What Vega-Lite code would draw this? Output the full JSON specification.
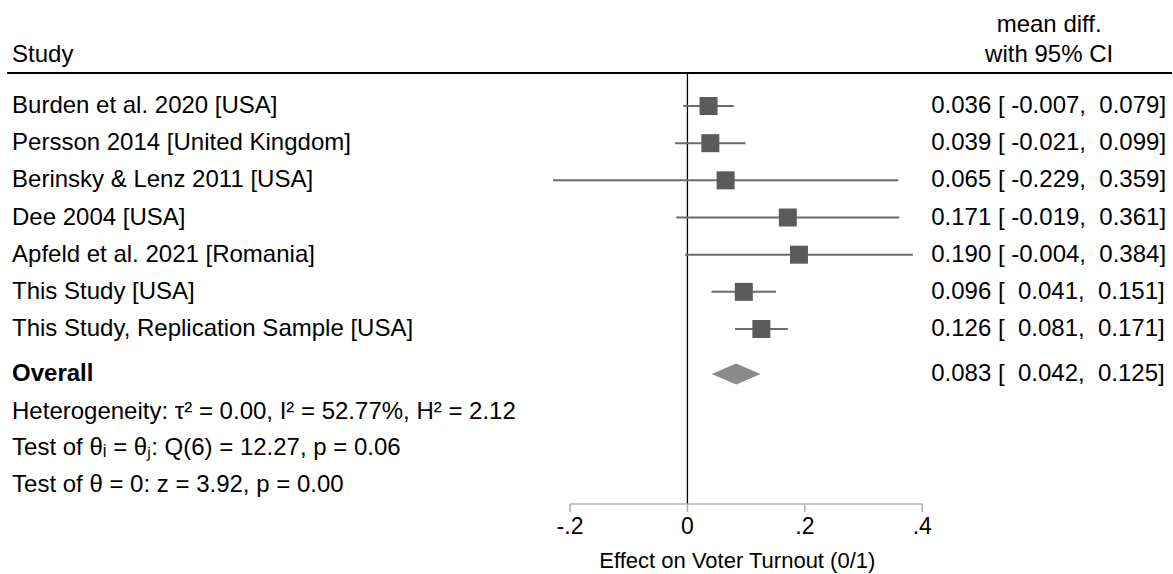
{
  "$schema": "https://vega.github.io/schema/vega-lite/v6.json",
  "width": 1173,
  "height": 574,
  "autosize": {"type": "fit", "contains": "padding"},
  "padding": 0,
  "background": "white",
  "view": {"stroke": null},
  "config": {"text": {"font": "Liberation Sans", "fontSize": 24, "color": "black"}},
  "datasets": {
    "studies": [
      {"study": "Burden et al. 2020 [USA]", "est": 0.036, "lo": -0.007, "hi": 0.079, "ci": "0.036 [ -0.007,\u00a0\u00a00.079]", "row": 1},
      {"study": "Persson 2014 [United Kingdom]", "est": 0.039, "lo": -0.021, "hi": 0.099, "ci": "0.039 [ -0.021,\u00a0\u00a00.099]", "row": 2},
      {"study": "Berinsky & Lenz 2011 [USA]", "est": 0.065, "lo": -0.229, "hi": 0.359, "ci": "0.065 [ -0.229,\u00a0\u00a00.359]", "row": 3},
      {"study": "Dee 2004 [USA]", "est": 0.171, "lo": -0.019, "hi": 0.361, "ci": "0.171 [ -0.019,\u00a0\u00a00.361]", "row": 4},
      {"study": "Apfeld et al. 2021 [Romania]", "est": 0.190, "lo": -0.004, "hi": 0.384, "ci": "0.190 [ -0.004,\u00a0\u00a00.384]", "row": 5},
      {"study": "This Study [USA]", "est": 0.096, "lo": 0.041, "hi": 0.151, "ci": "0.096 [\u00a0\u00a00.041,\u00a0\u00a00.151]", "row": 6},
      {"study": "This Study, Replication Sample [USA]", "est": 0.126, "lo": 0.081, "hi": 0.171, "ci": "0.126 [\u00a0\u00a00.081,\u00a0\u00a00.171]", "row": 7}
    ],
    "overall": [
      {"study": "Overall", "est": 0.083, "lo": 0.042, "hi": 0.125, "ci": "0.083 [\u00a0\u00a00.042,\u00a0\u00a00.125]", "row": 8.21}
    ],
    "notes": [
      {"note": "Heterogeneity: \u03c4\u00b2 = 0.00, I\u00b2 = 52.77%, H\u00b2 = 2.12", "row": 9.232},
      {"note": "Test of \u03b8\u1d62 = \u03b8\u2c7c: Q(6) = 12.27, p = 0.06", "row": 10.2},
      {"note": "Test of \u03b8 = 0: z = 3.92, p = 0.00", "row": 11.196}
    ],
    "ticks": [
      {"value": -0.2, "label": "-.2"},
      {"value": 0, "label": "0"},
      {"value": 0.2, "label": ".2"},
      {"value": 0.4, "label": ".4"}
    ],
    "one": [{}]
  },
  "data": {"name": "studies"},
  "encoding": {
    "x": {"type": "quantitative", "scale": {"domain": [-1.1711, 0.8255], "nice": false, "zero": false}, "axis": null},
    "y": {"type": "quantitative", "scale": {"domain": [-1.852, 13.591], "nice": false, "zero": false, "reverse": true}, "axis": null}
  },
  "layer": [
    {
      "data": {"name": "one"},
      "mark": {"type": "rule", "color": "black", "strokeWidth": 2},
      "encoding": {
        "x": {"datum": -1.159, "type": "quantitative"},
        "x2": {"datum": 0.8255},
        "y": {"datum": 0.112, "type": "quantitative"}
      }
    },
    {
      "data": {"name": "one"},
      "mark": {"type": "rule", "color": "black", "strokeWidth": 1.3},
      "encoding": {
        "x": {"datum": 0, "type": "quantitative"},
        "y": {"datum": 0.112, "type": "quantitative"},
        "y2": {"datum": 11.708}
      }
    },
    {
      "data": {"name": "one"},
      "mark": {"type": "rule", "color": "#b3b3b3", "strokeWidth": 1.6},
      "encoding": {
        "x": {"datum": -0.2, "type": "quantitative"},
        "x2": {"datum": 0.4},
        "y": {"datum": 11.708, "type": "quantitative"}
      }
    },
    {
      "data": {"name": "ticks"},
      "mark": {"type": "rule", "color": "#b3b3b3", "strokeWidth": 1.6},
      "encoding": {
        "x": {"field": "value", "type": "quantitative"},
        "y": {"datum": 11.708, "type": "quantitative"},
        "y2": {"datum": 11.923}
      }
    },
    {
      "data": {"name": "ticks"},
      "mark": {"type": "text", "fontSize": 23, "align": "center", "baseline": "middle"},
      "encoding": {
        "x": {"field": "value", "type": "quantitative"},
        "y": {"datum": 12.326, "type": "quantitative"},
        "text": {"field": "label"}
      }
    },
    {
      "data": {"name": "one"},
      "mark": {"type": "text", "fontSize": 22, "align": "center", "baseline": "middle"},
      "encoding": {
        "x": {"datum": 0.085, "type": "quantitative"},
        "y": {"datum": 13.241, "type": "quantitative"},
        "text": {"value": "Effect on Voter Turnout (0/1)"}
      }
    },
    {
      "mark": {"type": "rule", "color": "#6b6b6b", "strokeWidth": 2},
      "encoding": {
        "x": {"field": "lo", "type": "quantitative"},
        "x2": {"field": "hi"},
        "y": {"field": "row", "type": "quantitative"}
      }
    },
    {
      "mark": {"type": "point", "shape": "square", "filled": true, "size": 324, "color": "#5b5b5b", "opacity": 1},
      "encoding": {
        "x": {"field": "est", "type": "quantitative"},
        "y": {"field": "row", "type": "quantitative"}
      }
    },
    {
      "data": {"name": "overall"},
      "mark": {"type": "point", "shape": "M-1,0L0,-0.43L1,0L0,0.43Z", "filled": true, "size": 2401, "color": "#8a8a8a", "opacity": 1},
      "encoding": {
        "x": {"field": "est", "type": "quantitative"},
        "y": {"field": "row", "type": "quantitative"}
      }
    },
    {
      "mark": {"type": "text", "align": "left", "baseline": "middle"},
      "encoding": {
        "x": {"datum": -1.1506, "type": "quantitative"},
        "y": {"field": "row", "type": "quantitative"},
        "text": {"field": "study"}
      }
    },
    {
      "data": {"name": "overall"},
      "mark": {"type": "text", "align": "left", "baseline": "middle", "fontWeight": "bold"},
      "encoding": {
        "x": {"datum": -1.1506, "type": "quantitative"},
        "y": {"field": "row", "type": "quantitative"},
        "text": {"field": "study"}
      }
    },
    {
      "data": {"name": "notes"},
      "mark": {"type": "text", "align": "left", "baseline": "middle"},
      "encoding": {
        "x": {"datum": -1.1506, "type": "quantitative"},
        "y": {"field": "row", "type": "quantitative"},
        "text": {"field": "note"}
      }
    },
    {
      "mark": {"type": "text", "align": "left", "baseline": "middle"},
      "encoding": {
        "x": {"datum": 0.4153, "type": "quantitative"},
        "y": {"field": "row", "type": "quantitative"},
        "text": {"field": "ci"}
      }
    },
    {
      "data": {"name": "overall"},
      "mark": {"type": "text", "align": "left", "baseline": "middle"},
      "encoding": {
        "x": {"datum": 0.4153, "type": "quantitative"},
        "y": {"field": "row", "type": "quantitative"},
        "text": {"field": "ci"}
      }
    },
    {
      "data": {"name": "one"},
      "mark": {"type": "text", "align": "left", "baseline": "middle"},
      "encoding": {
        "x": {"datum": -1.1506, "type": "quantitative"},
        "y": {"datum": -0.372, "type": "quantitative"},
        "text": {"value": "Study"}
      }
    },
    {
      "data": {"name": "one"},
      "mark": {"type": "text", "align": "center", "baseline": "middle"},
      "encoding": {
        "x": {"datum": 0.6162, "type": "quantitative"},
        "y": {"datum": -1.179, "type": "quantitative"},
        "text": {"value": "mean diff."}
      }
    },
    {
      "data": {"name": "one"},
      "mark": {"type": "text", "align": "center", "baseline": "middle"},
      "encoding": {
        "x": {"datum": 0.6162, "type": "quantitative"},
        "y": {"datum": -0.372, "type": "quantitative"},
        "text": {"value": "with 95% CI"}
      }
    }
  ]
}
